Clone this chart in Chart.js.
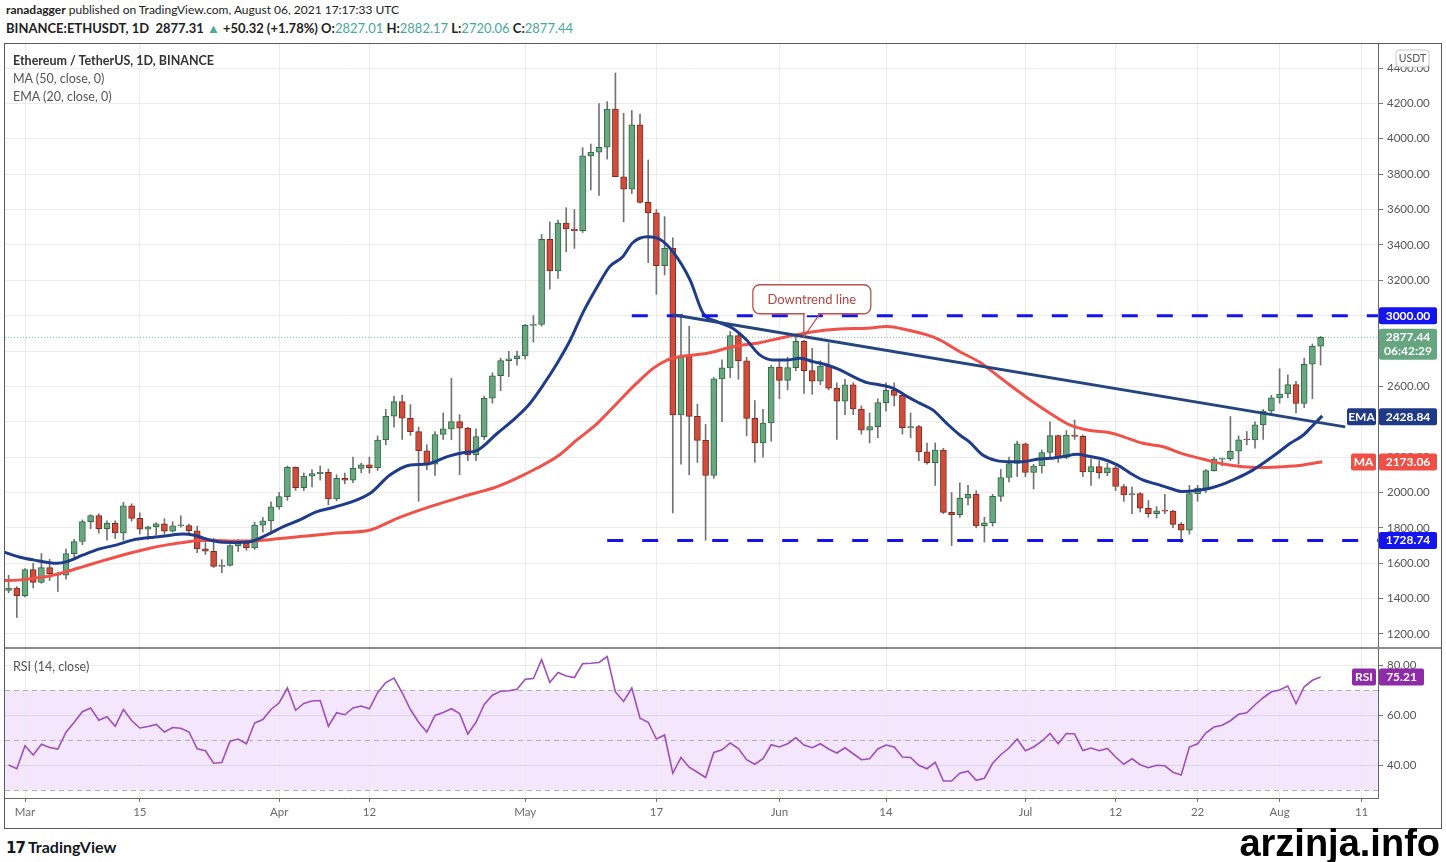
<!DOCTYPE html>
<html>
<head>
<meta charset="utf-8">
<script src="https://cdn.jsdelivr.net/npm/chart.js@4.4.1/dist/chart.umd.min.js"></script>
<style>
  body { margin: 0; width: 1446px; height: 862px; background: #fff; position: relative; overflow: hidden; font-family: Lato, 'Open Sans', sans-serif; }
  .abs { position: absolute; white-space: nowrap; }
  #head1 { left: 6px; top: 2px; font-size: 12px; line-height: 16px; color: #222; }
  #head2 { left: 6px; top: 20px; font-size: 13px; line-height: 16px; color: #222; font-weight: bold; }
  #head2 .up { color: #4aa79a; font-weight: normal; }
  #frame { left: 4px; top: 43px; width: 1436px; height: 784px; border: 1px solid #5a5a5a; }
  #sep { left: 5px; top: 647px; width: 1436px; height: 2px; background: #8a8a8a; }
  .legend { left: 13px; font-size: 12.5px; line-height: 16px; color: #555; }
  #logo { left: 6px; top: 837px; font-size: 16px; color: #131722; font-weight: bold; }
  #logo b { font-family: 'DejaVu Sans'; font-weight: 900; font-size: 15px; margin-right: 3px; letter-spacing: -1px; }
  #mark { right: 6px; top: 826px; font-family: 'Liberation Sans', Arial, sans-serif; font-weight: bold; font-size: 38px; line-height: 34px; color: #000; }
  canvas { position: absolute; }
</style>
</head>
<body>
<div class="abs" id="head1"><b>ranadagger</b> published on TradingView.com, August 06, 2021 17:17:33 UTC</div>
<div class="abs" id="head2">BINANCE:ETHUSDT, 1D &nbsp;2877.31 <span class="up">▲</span> +50.32 (+1.78%) O:<span class="up">2827.01</span> H:<span class="up">2882.17</span> L:<span class="up">2720.06</span> C:<span class="up">2877.44</span></div>
<div class="abs" id="frame"></div>
<canvas id="price" width="1435" height="603" style="left:5px;top:44px;width:1435px;height:603px"></canvas>
<canvas id="rsi" width="1435" height="178" style="left:5px;top:649px;width:1435px;height:178px"></canvas>
<div class="abs" id="sep"></div>
<div class="abs legend" style="top:53px;color:#333;font-weight:bold;">Ethereum / TetherUS, 1D, BINANCE</div>
<div class="abs legend" style="top:71px;">MA (50, close, 0)</div>
<div class="abs legend" style="top:89px;">EMA (20, close, 0)</div>
<div class="abs legend" style="top:659px;">RSI (14, close)</div>
<div class="abs" id="logo"><b>17</b>TradingView</div>
<div class="abs" id="mark">arzinja.info</div>

<script>
// day 0 = Mar 1 2021, first candle Feb 27 (day -2), last Aug 6 (day 158)
const firstDay = -2;

const opens = [1446,1459,
  1416,1564,1492,1575,1541,1533,1654,1723,1835,1869,1795,1826,1772,1924,1854,1792,1806,1823,1782,1812,1813,1784,1681,1668,1582,1588,1700,1714,1686,1816,1840,
  1919,1977,2143,2027,2093,2107,2114,1963,2080,2070,2136,2157,2140,2297,2431,2514,2420,2344,2236,2160,2328,2360,2401,2363,2213,2316,2533,2660,2746,2756,
  2772,2945,2950,3431,3253,3523,3490,3480,3903,3924,3952,4168,3785,3715,4079,3640,3581,3282,3380,2439,2774,2430,2295,2096,2642,2705,2887,2745,2419,2281,2393,
  2709,2634,2706,2855,2689,2630,2715,2590,2517,2609,2472,2353,2372,2508,2578,2549,2366,2372,2230,2168,2240,1888,1874,1968,1990,1811,1829,1978,2085,2164,
  2275,2114,2150,2226,2322,2198,2324,2317,2116,2147,2111,2140,2034,1987,1994,1911,1880,1897,1895,1820,1787,1994,2025,2124,2189,2191,2233,2298,2297,2382,2461,
  2535,2557,2610,2504,2725,2827.01];
const highs = [1532,1468,
  1570,1600,1655,1622,1548,1680,1735,1845,1875,1880,1840,1840,1945,1936,1885,1810,1830,1852,1835,1868,1821,1810,1717,1740,1620,1705,1734,1728,1832,1859,1947,
  2000,2150,2145,2110,2130,2150,2133,2100,2110,2200,2166,2200,2320,2470,2545,2550,2497,2370,2270,2345,2450,2645,2440,2370,2360,2545,2677,2760,2798,2799,
  2950,3000,3460,3530,3540,3610,3600,3950,3970,4199,4210,4372,4144,4160,4140,3880,3600,3560,3440,2990,2940,2500,2385,2650,2750,2910,2895,2765,2520,2470,2720,
  2740,2765,2892,2860,2815,2745,2845,2620,2640,2620,2490,2450,2530,2620,2620,2560,2450,2380,2280,2280,2250,2000,2055,2040,2010,1860,1990,2130,2200,2290,
  2280,2160,2240,2400,2325,2350,2410,2325,2190,2180,2165,2150,2045,2030,2000,1955,1920,1990,1900,1830,2040,2040,2130,2200,2195,2430,2320,2345,2400,2470,2550,
  2700,2665,2628,2760,2840,2882.17];
const lows = [1432,1293,
  1410,1460,1487,1502,1440,1510,1636,1705,1795,1770,1730,1740,1730,1838,1765,1735,1760,1765,1776,1804,1760,1660,1650,1576,1546,1583,1666,1673,1678,1776,1774,
  1905,1955,2012,2011,2031,2070,1930,1953,2050,2056,2111,2110,2124,2270,2370,2300,2323,1950,2128,2096,2300,2298,2100,2180,2180,2300,2505,2575,2655,2720,
  2755,2850,2940,3150,3210,3360,3380,3470,3710,3680,3885,3790,3530,3690,3636,3300,3120,3230,1885,2160,2100,2170,1730,2080,2400,2650,2640,2320,2170,2200,2290,
  2530,2580,2689,2560,2555,2610,2580,2300,2440,2440,2330,2280,2310,2460,2490,2330,2310,2180,2160,2040,1880,1700,1860,1930,1800,1720,1810,1950,2060,2090,
  2090,2020,2110,2200,2170,2190,2300,2090,2040,2080,2095,2010,1950,1880,1890,1860,1855,1880,1800,1718,1764,1950,2000,2120,2150,2180,2160,2270,2250,2300,2440,
  2505,2535,2450,2480,2530,2720.06];
const closes = [1459,1416,
  1564,1492,1575,1541,1533,1654,1723,1835,1869,1795,1826,1772,1924,1854,1792,1806,1823,1782,1812,1813,1784,1681,1668,1582,1588,1700,1714,1686,1816,1840,1919,
  1977,2143,2027,2093,2107,2114,1963,2080,2070,2136,2157,2140,2297,2431,2514,2420,2344,2236,2160,2328,2360,2401,2363,2213,2316,2533,2660,2746,2756,2772,
  2945,2950,3431,3253,3523,3490,3480,3903,3924,3952,4168,3785,3715,4079,3640,3581,3282,3380,2439,2774,2430,2295,2096,2642,2705,2887,2745,2419,2281,2393,2709,
  2634,2706,2855,2689,2630,2715,2590,2517,2609,2472,2353,2372,2508,2578,2549,2366,2372,2230,2168,2240,1888,1874,1968,1990,1811,1829,1978,2085,2164,2275,
  2114,2150,2226,2322,2198,2324,2317,2116,2147,2111,2140,2034,1987,1994,1911,1880,1897,1895,1820,1787,1994,2025,2124,2189,2191,2233,2298,2297,2382,2461,2535,
  2557,2610,2504,2725,2827,2877.44];

const rsiValues = [40,38.5,
  47.7,44,48.3,47,46.4,53.1,57.1,61.3,62.8,57.9,59.3,55.5,62.2,57.8,54.8,55.4,56.2,53.2,55,54.7,53.2,46.5,45.7,40.7,41,49.5,50.4,48.5,56.8,58.2,62.2,
  64.9,70.8,61.9,64.6,65.6,65.8,55.5,60.9,60.1,62.8,63.6,62.5,68.9,73,74.8,68.9,62.2,57.1,53.2,59.8,61,62.5,60.6,52.4,57.1,64.2,67.9,69.5,69.7,70.3,
  74.3,74.6,82.1,73,77,75.6,75,80.5,80.7,81,83.4,69.2,65.4,70.8,58.7,57.1,50.4,52,36.7,43,39.1,37.1,35,45,46.1,48.8,46.6,42.1,40.3,42.5,48.1,
  47.2,48.5,50.9,48,46.9,48.5,46.4,44.8,46.9,44.5,42.1,42.5,46.4,48,47.2,43.2,43,39.9,38.5,41.1,33.6,33.6,36.7,37.5,33.9,34.7,40.7,44.1,46.8,50.4,
  45.7,47.2,49.5,52.6,48.5,52.6,52.4,45.8,46.8,45.7,46.6,43.2,40.3,42.5,40.1,38.9,39.9,39.7,37.1,36,47.2,48.5,52.8,55.2,55.9,57.7,60.3,60.9,64.1,66.9,69.3,
  70,71.6,64.5,71.3,73.9,75.21];

// EMA(20) and MA(50)
const emaDays = [-2.7,-0.6,1.0,3.9,5.1,7.1,9.1,11.2,13.2,15.2,17.3,19.3,20.5,22.2,23.8,25.4,27.4,29.5,31.5,33.5,35.6,37.6,42.1,44.5,47.0,
  49.0,51.5,53.4,55.1,57.6,60.0,61.6,63.2,64.9,66.5,68.0,69.8,71.3,72.9,74.1,75.9,77.4,79.0,81.1,82.7,84.4,86.3,88.0,89.6,91.2,
  92.9,94.5,96.1,97.8,99.4,101.0,102.7,104.3,105.9,107.6,109.1,110.7,112.4,114.0,115.2,116.8,118.5,120.1,121.7,123.4,125.0,126.6,
  128.3,129.9,131.5,133.2,134.8,136.3,138.0,139.6,141.2,142.9,144.5,146.1,147.8,149.4,151.0,152.7,154.3,155.9,157.1,158.2];
const emaValues = [1666,1634,1619,1600,1609,1647,1681,1704,1732,1745,1756,1766,1760,1736,1720,1718,1722,1760,1807,1845,1892,1915,1996,2099,2156,
  2161,2203,2225,2237,2335,2429,2505,2608,2731,2862,3013,3164,3277,3333,3412,3446,3432,3362,3202,3013,2966,2929,2862,2778,2749,
  2749,2759,2740,2721,2693,2655,2621,2608,2589,2542,2505,2467,2391,2325,2285,2212,2180,2174,2174,2188,2193,2203,
  2216,2203,2188,2156,2109,2071,2047,2024,2005,2011,2024,2047,2081,2118,2166,2222,2278,2325,2382,2433];
const maDays = [-2.7,-0.6,1.0,3.0,5.1,7.1,9.1,11.2,13.2,15.2,17.3,19.3,21.3,23.4,25.4,27.4,29.5,31.5,33.5,35.6,37.6,42.1,45.4,49.4,53.4,
  57.6,60.0,62.4,64.9,67.3,69.8,72.2,74.6,76.6,78.3,79.9,83.2,86.3,89.6,92.9,96.1,99.4,102.7,105.1,107.6,110.0,111.6,114.0,116.5,117.7,
  120.1,122.6,125.0,127.4,129.9,132.3,133.9,136.3,138.8,141.2,143.7,146.1,148.5,151.0,153.4,155.9,158.2];
const maValues = [1502,1506,1515,1528,1553,1581,1609,1637,1662,1685,1704,1717,1728,1728,1726,1726,1732,1742,1751,1760,1770,1788,1854,1920,1977,
  2033,2081,2137,2203,2297,2391,2505,2618,2702,2749,2768,2787,2824,2847,2881,2909,2925,2929,2938,2919,2891,2862,2796,2735,2693,
  2608,2523,2448,2382,2350,2338,2316,2278,2259,2218,2188,2161,2146,2142,2146,2156,2174];

const tickDays = [0,14,31,42,61,77,92,105,122,133,143,153,163];
const tickLabels = ['Mar','15','Apr','12','May','17','Jun','14','Jul','12','22','Aug','11'];
const priceTicks = [1200,1400,1600,1800,2000,2200,2400,2600,2800,3000,3200,3400,3600,3800,4000,4200,4400];
const rsiTicks = [40,60,80];
const rsiLevels = [30,50,70];

const resistance = 3000, resistanceFrom = 74;
const support = 1728.74, supportFrom = 71;
const trendDays = [79, 161], trendValues = [3005, 2371];
const calloutDay = 95.1;
const lastPrice = 2877.44, lastEma = 2428.84, lastMa = 2173.06, lastRsi = 75.21;

const FONT = 'Lato';
const xMin = -2.44, xMax = 165;
const days = closes.map((_, i) => firstDay + i);

function xAxis(labels) {
  return {
    type: 'linear', min: xMin, max: xMax, offset: false,
    afterBuildTicks: s => { s.ticks = tickDays.map(v => ({ value: v })); },
    afterFit: s => { s.height = labels ? 29 : 0; s.paddingLeft = 0; s.paddingRight = 0; },
    grid: { color: '#ebebeb', offset: false, drawTicks: labels, tickLength: 4, tickColor: '#777' },
    border: { display: labels, color: '#666' },
    ticks: { display: labels, autoSkip: false, maxRotation: 0, padding: 3, color: '#6a6a6a',
      font: { family: FONT, size: 11.5 }, callback: (v, i) => tickLabels[i] }
  };
}
function yAxis(min, max, ticks, gridColor) {
  return {
    position: 'right', min: min, max: max,
    afterBuildTicks: s => { s.ticks = ticks.map(v => ({ value: v })); },
    afterFit: s => { s.width = 62; s.paddingTop = 0; s.paddingBottom = 0; },
    grid: { color: gridColor, tickLength: 5, tickColor: '#777' },
    border: { color: '#666' },
    ticks: { padding: 4, color: '#555', font: { family: FONT, size: 11.5 }, callback: v => v.toFixed(2) }
  };
}

const up = closes.map((c, i) => c >= opens[i]);

function tag(ctx, x, y, w, h, bg, text, fg, lines) {
  ctx.fillStyle = bg;
  ctx.beginPath();
  ctx.roundRect(x, y, w, h, 2);
  ctx.fill();
  ctx.fillStyle = fg || '#fff';
  ctx.font = 'bold 12px ' + FONT;
  ctx.textAlign = 'center';
  ctx.textBaseline = 'middle';
  const parts = lines || [text];
  parts.forEach((t, i) => ctx.fillText(t, x + w / 2, y + 8.5 + i * 14));
}

const pricePlugin = {
  id: 'priceExtras',
  afterDraw(chart) {
    const { ctx, chartArea: a, scales: { x, y } } = chart;
    ctx.save();
    // callout
    const ay = trendValues[0] + (calloutDay - trendDays[0]) * (trendValues[1] - trendValues[0]) / (trendDays[1] - trendDays[0]);
    const px = x.getPixelForValue(calloutDay), py = y.getPixelForValue(ay);
    const bx = px - 52, by = py - 52, bw = 118, bh = 29;
    ctx.fillStyle = '#fff';
    ctx.strokeStyle = '#b9534f';
    ctx.lineWidth = 1.3;
    ctx.beginPath();
    ctx.roundRect(bx, by, bw, bh, 7);
    ctx.fill(); ctx.stroke();
    ctx.beginPath();
    ctx.moveTo(px - 1, by + bh);
    ctx.lineTo(px - 1, py);
    ctx.lineTo(px + 15, by + bh);
    ctx.stroke();
    ctx.fillStyle = '#fff';
    ctx.fillRect(px, by + bh - 1, 13, 2.5);
    ctx.fillStyle = '#b0463f';
    ctx.font = '13px ' + FONT;
    ctx.textAlign = 'center';
    ctx.textBaseline = 'middle';
    ctx.fillText('Downtrend line', bx + bw / 2, by + bh / 2 + 1);

    // right axis tags
    const vx = a.right + 1, vw = 58;
    tag(ctx, vx, y.getPixelForValue(resistance) - 8.5, vw, 17, '#1414ee', resistance.toFixed(2));
    tag(ctx, vx, y.getPixelForValue(support) - 8.5, vw, 17, '#1414ee', support.toFixed(2));
    tag(ctx, vx, y.getPixelForValue(lastPrice) - 8.5, vw, 31, '#65a681', '', '#fff', [lastPrice.toFixed(2), '06:42:29']);
    tag(ctx, a.right - 31, y.getPixelForValue(lastEma) - 8.5, 29, 17, '#1f3b85', 'EMA');
    tag(ctx, vx, y.getPixelForValue(lastEma) - 8.5, vw, 17, '#1f3b85', lastEma.toFixed(2));
    tag(ctx, a.right - 27, y.getPixelForValue(lastMa) - 8.5, 25, 17, '#ef4f45', 'MA');
    tag(ctx, vx, y.getPixelForValue(lastMa) - 8.5, vw, 17, '#ef4f45', lastMa.toFixed(2));

    // currency box
    ctx.fillStyle = '#fff';
    ctx.strokeStyle = '#c6c6c6';
    ctx.lineWidth = 1;
    ctx.beginPath();
    ctx.roundRect(a.right + 18, 6, 33, 17, 3);
    ctx.fill(); ctx.stroke();
    ctx.fillStyle = '#555';
    ctx.font = '10.5px ' + FONT;
    ctx.fillText('USDT', a.right + 34.5, 15);
    ctx.restore();
  }
};

const rsiPlugin = {
  id: 'rsiExtras',
  beforeDraw(chart) {
    const { ctx, chartArea: a, scales: { y } } = chart;
    ctx.save();
    ctx.fillStyle = '#f4e6fc';
    const t = y.getPixelForValue(rsiLevels[2]), b = y.getPixelForValue(rsiLevels[0]);
    ctx.fillRect(a.left, t, a.right - a.left, b - t);
    ctx.restore();
  },
  beforeDatasetsDraw(chart) {
    const { ctx, chartArea: a, scales: { y } } = chart;
    ctx.save();
    ctx.strokeStyle = '#b0b0b0';
    ctx.lineWidth = 1;
    ctx.setLineDash([5, 4]);
    rsiLevels.forEach(v => {
      const py = Math.round(y.getPixelForValue(v)) + 0.5;
      ctx.beginPath(); ctx.moveTo(a.left, py); ctx.lineTo(a.right, py); ctx.stroke();
    });
    ctx.restore();
  },
  afterDraw(chart) {
    const { ctx, chartArea: a, scales: { y } } = chart;
    ctx.save();
    const py = y.getPixelForValue(lastRsi) - 8.5;
    tag(ctx, a.right - 26, py, 24, 17, '#8f2aa8', 'RSI');
    tag(ctx, a.right + 1, py, 45, 17, '#8f2aa8', lastRsi.toFixed(2));
    ctx.restore();
  }
};

const common = {
  responsive: false,
  animation: false,
  layout: { padding: 0 },
  plugins: { legend: { display: false }, tooltip: { enabled: false } }
};

new Chart(document.getElementById('price'), {
  type: 'bar',
  data: {
    datasets: [
      { type: 'line', data: emaDays.map((d, i) => ({ x: d, y: emaValues[i] })), borderColor: '#1f3c8a', borderWidth: 3,
        pointRadius: 0, cubicInterpolationMode: 'monotone', order: 2 },
      { type: 'line', data: maDays.map((d, i) => ({ x: d, y: maValues[i] })), borderColor: '#f0524a', borderWidth: 3,
        pointRadius: 0, cubicInterpolationMode: 'monotone', order: 3 },
      { type: 'line', data: [{ x: trendDays[0], y: trendValues[0] }, { x: trendDays[1], y: trendValues[1] }],
        borderColor: '#25457f', borderWidth: 3, pointRadius: 0, order: 1 },
      { type: 'line', data: [{ x: resistanceFrom, y: resistance }, { x: xMax, y: resistance }],
        borderColor: '#1414ee', borderWidth: 3, borderDash: [16, 19], pointRadius: 0, order: 1 },
      { type: 'line', data: [{ x: supportFrom, y: support }, { x: xMax, y: support }],
        borderColor: '#1414ee', borderWidth: 3, borderDash: [16, 19], pointRadius: 0, order: 1 },
      { type: 'line', data: [{ x: xMin, y: lastPrice }, { x: xMax, y: lastPrice }],
        borderColor: '#86b39a', borderWidth: 1, borderDash: [1, 2], pointRadius: 0, order: 6 },
      { data: days.map((d, i) => ({ x: d, y: [lows[i], highs[i]] })), backgroundColor: '#737373',
        barThickness: 1, grouped: false, order: 5 },
      { data: days.map((d, i) => ({ x: d, y: [Math.min(opens[i], closes[i]), Math.max(opens[i], closes[i])] })),
        backgroundColor: up.map(u => u ? '#6aa781' : '#d04c3b'),
        borderColor: up.map(u => u ? '#2f6b45' : '#7e2a21'),
        borderWidth: 1, borderSkipped: false, barThickness: 6, minBarLength: 1, grouped: false, order: 4 }
    ]
  },
  options: Object.assign({}, common, {
    scales: { x: xAxis(false), y: yAxis(1126.5, 4535.7, priceTicks, '#ebebeb') }
  }),
  plugins: [pricePlugin]
});

new Chart(document.getElementById('rsi'), {
  type: 'line',
  data: {
    datasets: [
      { data: days.map((d, i) => ({ x: d, y: rsiValues[i] })), borderColor: '#9d4fb8', borderWidth: 1.6, pointRadius: 0, tension: 0 }
    ]
  },
  options: Object.assign({}, common, {
    scales: { x: xAxis(true), y: yAxis(26.8, 86.4, rsiTicks, 'rgba(0,0,0,0.08)') }
  }),
  plugins: [rsiPlugin]
});
</script>
</body>
</html>
